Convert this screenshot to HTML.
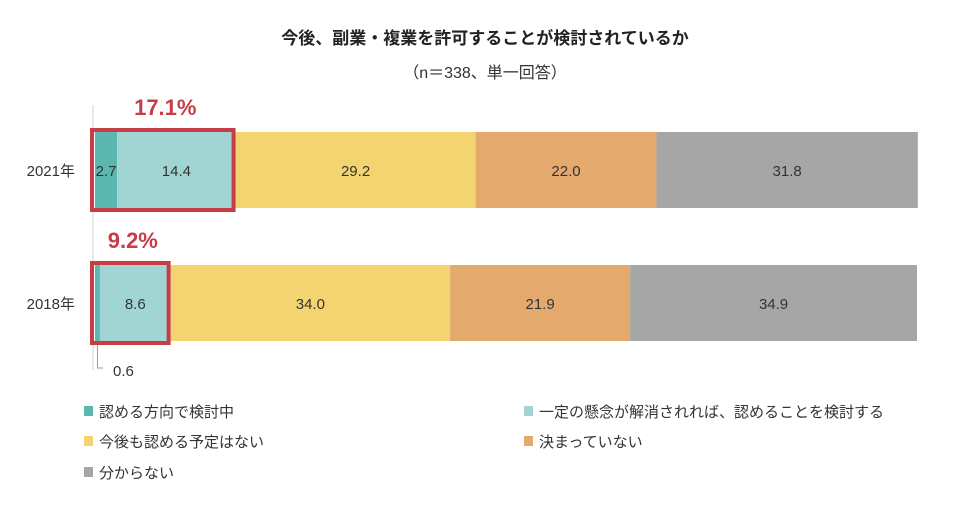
<!DOCTYPE html>
<html><head><meta charset="utf-8"><style>
body{margin:0;background:#fff;}
svg text{font-family:"Liberation Sans","Noto Sans CJK JP",sans-serif;}
</style></head><body>
<svg id="c" width="970" height="519" xmlns="http://www.w3.org/2000/svg">
<text x="485" y="44" text-anchor="middle" font-size="17" font-weight="bold" fill="#222">今後、副業・複業を許可することが検討されているか</text>
<text x="485" y="78" text-anchor="middle" font-size="16" fill="#333">（n＝338、単一回答）</text>
<line x1="93" y1="105" x2="93" y2="370" stroke="#d0d0d0" stroke-width="1"/>
<g id="bars"></g>
<g id="legend"></g>
</svg>
<script>
const categories = ["2021年","2018年"];
const seriesNames = ["認める方向で検討中","一定の懸念が解消されれば、認めることを検討する","今後も認める予定はない","決まっていない","分からない"];
const seriesColors = ["#5bb7b0","#a0d5d3","#f4d470","#e4a96d","#a6a6a6"];
const values2021 = [2.7,14.4,29.2,22.0,31.8];
const values2018 = [0.6,8.6,34.0,21.9,34.9];
const highlightLabels = ["17.1%","9.2%"];
const allValues = [values2021, values2018];
const NS="http://www.w3.org/2000/svg";
const x0=95, x1=917;
const xScale=v=>x0+(x1-x0)*v/100;
const barY=[132,265], barH=76;
function mk(tag,attrs,parent){const e=document.createElementNS(NS,tag);for(const k in attrs)e.setAttribute(k,attrs[k]);parent.appendChild(e);return e;}
const g=document.getElementById('bars');
categories.forEach((cat,ci)=>{
  const y=barY[ci];
  const t=mk('text',{x:75,y:y+barH/2+6,'text-anchor':'end','font-size':15,fill:'#333'},g);
  
  
  t.textContent=cat;
  let cum=0;
  allValues[ci].forEach((v,si)=>{
    const xa=xScale(cum), xb=xScale(cum+v);
    const r=mk('rect',{x:xa,y:y,width:xb-xa,height:barH,fill:seriesColors[si]},g);
    
    
    if(v>=2){
      const lt=mk('text',{x:(xa+xb)/2,y:y+barH/2+6,'text-anchor':'middle','font-size':15,fill:'#333'},g);
      
      
      lt.textContent=v.toFixed(1);
    } else {
      const p=mk('path',{d:`M${(xa+xb)/2} ${y+barH} V${y+barH+27} H${xa+8}`,stroke:'#999',fill:'none','stroke-width':1},g);
      
      
      const lt=mk('text',{x:xa+18,y:y+barH+35,'font-size':15,fill:'#333'},g);
      
      
      lt.textContent=v.toFixed(1);
    }
    cum+=v;
  });
  const hv=allValues[ci][0]+allValues[ci][1];
  const hb=mk('rect',{x:xScale(0)-3,y:y-2,width:xScale(hv)-xScale(0)+1,height:barH+4,fill:'none',stroke:'#c63c47','stroke-width':4},g);
  
  
  const hl=mk('text',{x:(xScale(0)+xScale(hv))/2,y:y-17,'text-anchor':'middle','font-size':22,'font-weight':'bold',fill:'#c63c47'},g);
  
  
  hl.textContent=highlightLabels[ci];
});
const lg=document.getElementById('legend');
const legPos=[[84,411],[524,411],[84,441],[524,441],[84,472]];
seriesNames.forEach((n,i)=>{
  const [lx,ly]=legPos[i];
  const s=mk('rect',{x:lx,y:ly-5,width:9,height:10,fill:seriesColors[i]},lg);
  
  
  const t=mk('text',{x:lx+15,y:ly+6,'font-size':15,fill:'#333'},lg);
  
  
  t.textContent=n;
});
</script>
</body></html>
